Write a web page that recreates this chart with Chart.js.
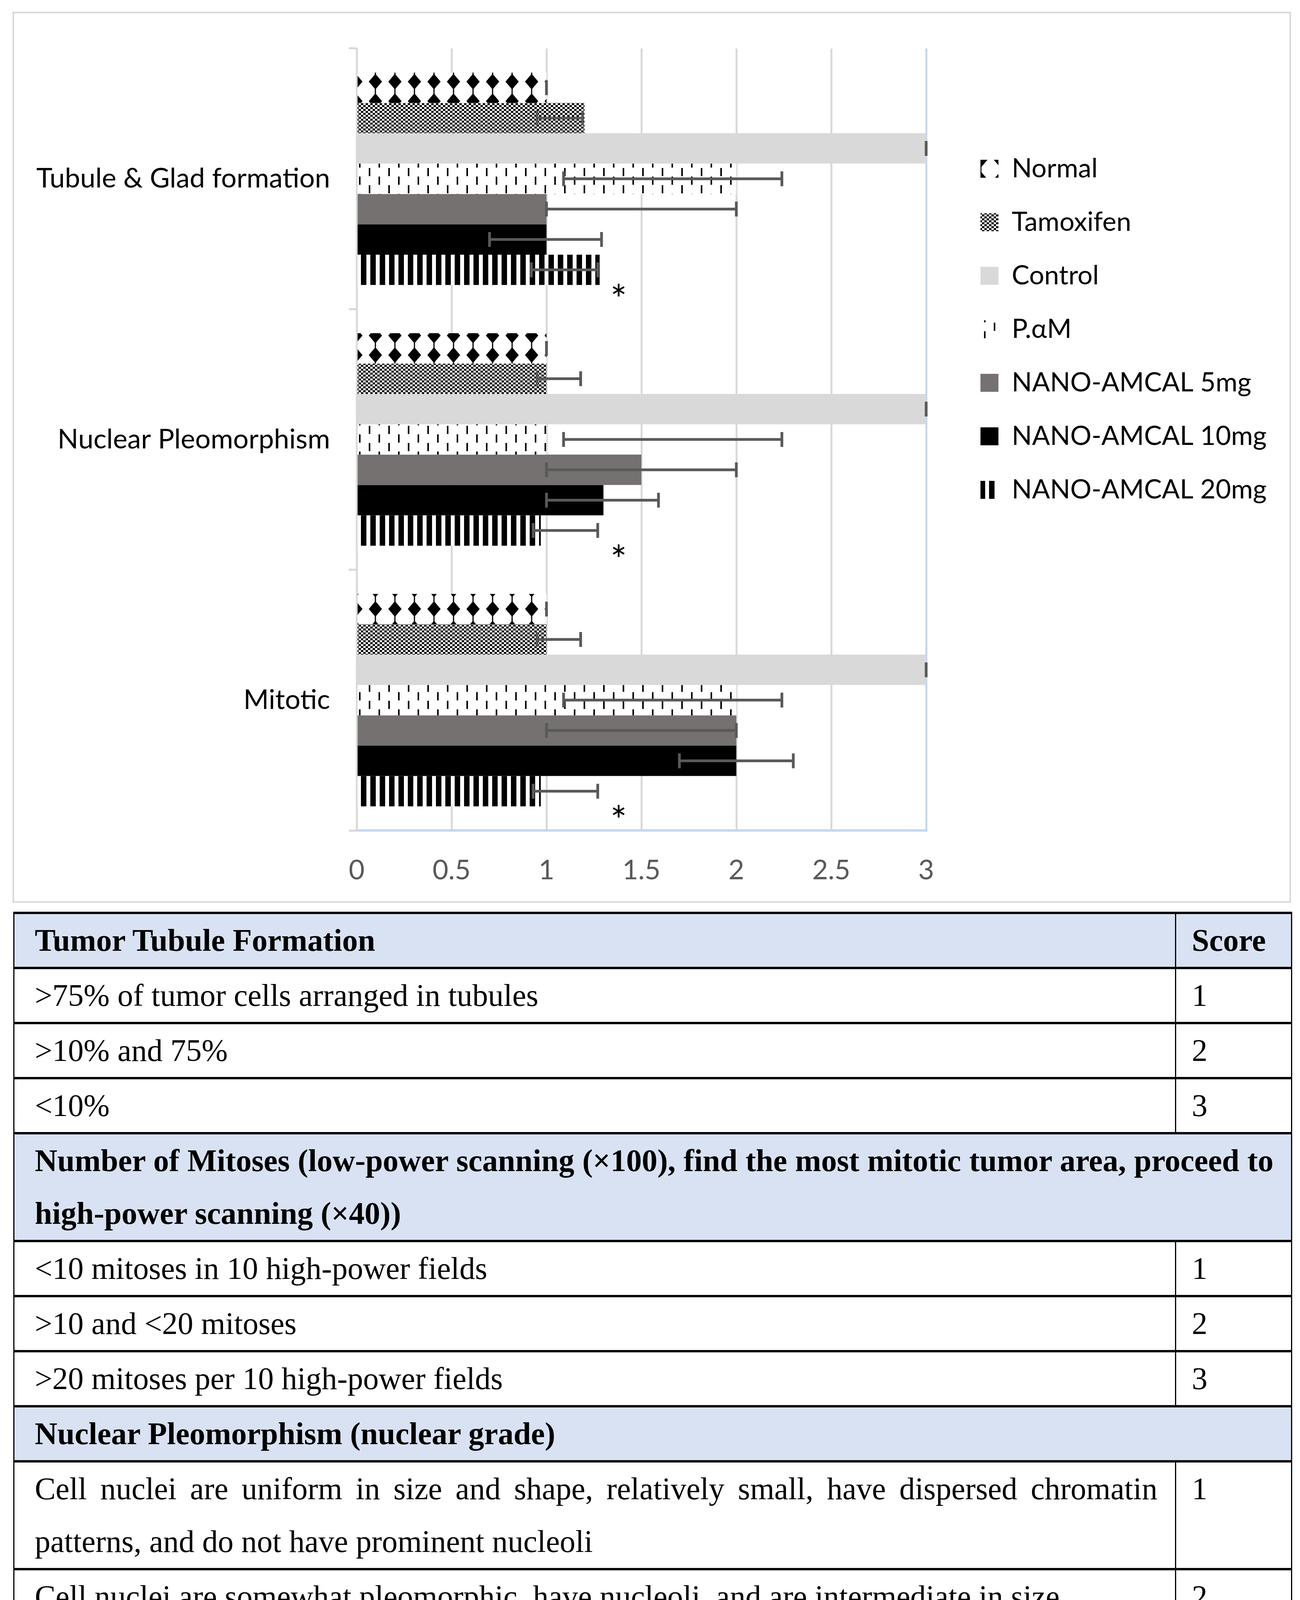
<!DOCTYPE html>
<html>
<head>
<meta charset="utf-8">
<script src="https://cdn.jsdelivr.net/npm/chart.js@4.4.1/dist/chart.umd.min.js"></script>
<style>
  html, body { margin: 0; padding: 0; background: #fff; }
  body { width: 3328px; height: 4453px; position: relative; }
  #chartBox { position: absolute; left: 32px; top: 30px; width: 3265px; height: 2273px; border: 4px solid #d9d9d9; }
  #chartBox canvas { display: block; }
  table { position: absolute; left: 34px; top: 2334px; width: 3271px; table-layout: fixed; border-collapse: collapse;
          font-family: "Liberation Serif", "DejaVu Serif", serif; font-size: 80px; color: #000; }
  td { border-left: 3px solid #000; border-right: 3px solid #000; border-top: 6px solid #000; border-bottom: 6px solid #000;
       padding: 0 45px 0 52px; line-height: 135px; vertical-align: top; }
  td.score { padding-left: 40px; }
  tr.head td { background: #d9e2f3; font-weight: bold; }
  .jl { display: block; text-align: justify; text-align-last: justify; }
</style>
</head>
<body>
<div id="chartBox"><canvas id="chart" width="3265" height="2273"></canvas></div>

<table>
  <colgroup><col style="width:2974px"><col style="width:297px"></colgroup>
  <tr class="head"><td>Tumor Tubule Formation</td><td class="score">Score</td></tr>
  <tr><td>&gt;75% of tumor cells arranged in tubules</td><td class="score">1</td></tr>
  <tr><td>&gt;10% and 75%</td><td class="score">2</td></tr>
  <tr><td>&lt;10%</td><td class="score">3</td></tr>
  <tr class="head"><td colspan="2"><span class="jl">Number of Mitoses (low-power scanning (×100), find the most mitotic tumor area, proceed to</span>high-power scanning (×40))</td></tr>
  <tr><td>&lt;10 mitoses in 10 high-power fields</td><td class="score">1</td></tr>
  <tr><td>&gt;10 and &lt;20 mitoses</td><td class="score">2</td></tr>
  <tr><td>&gt;20 mitoses per 10 high-power fields</td><td class="score">3</td></tr>
  <tr class="head"><td colspan="2">Nuclear Pleomorphism (nuclear grade)</td></tr>
  <tr><td><span class="jl">Cell nuclei are uniform in size and shape, relatively small, have dispersed chromatin</span>patterns, and do not have prominent nucleoli</td><td class="score">1</td></tr>
  <tr><td>Cell nuclei are somewhat pleomorphic, have nucleoli, and are intermediate in size</td><td class="score">2</td></tr>
  <tr><td><span class="jl">Cell nuclei are relatively large, have prominent nucleoli or multiple nucleoli, coarse</span>chromatin patterns, and vary in size and shape</td><td class="score">3</td></tr>
</table>

<script>
// data
const categories = ['Tubule & Glad formation', 'Nuclear Pleomorphism', 'Mitotic'];
const seriesNames = ['Normal', 'Tamoxifen', 'Control', 'P.\u03b1M', 'NANO-AMCAL 5mg', 'NANO-AMCAL 10mg', 'NANO-AMCAL 20mg'];

const normal    = [1, 1, 1];
const tamoxifen = [1.2, 1, 1];
const control   = [3, 3, 3];
const pam       = [2, 1, 2];
const nano5     = [1, 1.5, 2];
const nano10    = [1, 1.3, 2];
const nano20    = [1.28, 0.97, 0.97];

// error bar ends [low, high]
const normalErr    = [[1, 1], [1, 1], [1, 1]];
const tamoxifenErr = [[0.95, 1.19], [0.95, 1.18], [0.95, 1.18]];
const controlErr   = [[3, 3], [3, 3], [3, 3]];
const pamErr       = [[1.09, 2.24], [1.09, 2.24], [1.09, 2.24]];
const nano5Err     = [[1, 2], [1, 2], [1, 2]];
const nano10Err    = [[0.7, 1.29], [1, 1.59], [1.7, 2.3]];
const nano20Err    = [[0.92, 1.27], [0.93, 1.27], [0.93, 1.27]];

const xTicks = [0, 0.5, 1, 1.5, 2, 2.5, 3];
const starValue = 1.38;   // where the "*" sits
const starSeries = 6;

const canvas = document.getElementById('chart');
const ctx = canvas.getContext('2d');

function makePattern(w, h, draw) {
  const c = document.createElement('canvas');
  c.width = w; c.height = h;
  const g = c.getContext('2d');
  g.fillStyle = '#fff';
  g.fillRect(0, 0, w, h);
  g.fillStyle = '#000';
  draw(g);
  return ctx.createPattern(c, 'repeat');
}

const diamondFill = makePattern(50, 50, g => {
  g.beginPath();
  g.moveTo(25, 5); g.lineTo(42, 25); g.lineTo(25, 45); g.lineTo(8, 25);
  g.closePath();
  g.fill();
  g.fillRect(23.5, 0, 3, 50);
});
const checkFill = makePattern(12, 10, g => {
  g.fillRect(0, 0, 6, 5);
  g.fillRect(6, 5, 6, 5);
});
const dashFill = makePattern(50, 44, g => {
  g.fillRect(8, 0, 4, 21);
  g.fillRect(33, 22, 4, 21);
});
const stripeFill = makePattern(24, 10, g => {
  g.fillRect(0, 0, 14, 10);
});

function series(i, data, err, fill) {
  return {
    label: seriesNames[i],
    data: data,
    err: err,
    backgroundColor: fill,
    borderWidth: 0,
    barPercentage: 1,
    categoryPercentage: 0.815
  };
}

const errorBars = {
  id: 'errorBars',
  afterDatasetsDraw(chart) {
    const c = chart.ctx;
    const x = chart.scales.x;
    c.save();
    c.strokeStyle = '#595959';
    c.lineWidth = 7;
    chart.data.datasets.forEach((ds, i) => {
      chart.getDatasetMeta(i).data.forEach((bar, j) => {
        const [lo, hi] = ds.err[j];
        const x1 = x.getPixelForValue(lo);
        const x2 = x.getPixelForValue(hi);
        const y = bar.y;
        const h = 19;
        c.beginPath();
        c.moveTo(x1, y); c.lineTo(x2, y);
        c.moveTo(x1, y - h); c.lineTo(x1, y + h);
        c.moveTo(x2, y - h); c.lineTo(x2, y + h);
        c.stroke();
      });
    });
    c.fillStyle = '#000';
    c.font = '100px Lato';
    c.textAlign = 'center';
    c.textBaseline = 'alphabetic';
    chart.getDatasetMeta(starSeries).data.forEach(bar => {
      c.fillText('*', x.getPixelForValue(starValue), bar.y + 112);
    });
    c.restore();
  }
};

// push the legend block to where it sits in the figure
const legendSpot = {
  id: 'legendSpot',
  beforeLayout(chart) {
    const lg = chart.legend;
    if (lg && !lg._wide) {
      const fit = lg.fit;
      lg.fit = function () { fit.call(this); this.width = 840; };
      lg._wide = true;
    }
  },
  afterLayout(chart) {
    chart.legend.left += 70;
    chart.legend.right += 70;
  }
};

Chart.defaults.font.family = 'Lato';

new Chart(ctx, {
  type: 'bar',
  data: {
    labels: categories,
    datasets: [
      series(0, normal, normalErr, diamondFill),
      series(1, tamoxifen, tamoxifenErr, checkFill),
      series(2, control, controlErr, '#d9d9d9'),
      series(3, pam, pamErr, dashFill),
      series(4, nano5, nano5Err, '#767171'),
      series(5, nano10, nano10Err, '#000000'),
      series(6, nano20, nano20Err, stripeFill)
    ]
  },
  options: {
    indexAxis: 'y',
    responsive: false,
    animation: false,
    devicePixelRatio: 1,
    layout: { padding: { left: 50, top: 89, right: 90, bottom: 0 } },
    scales: {
      x: {
        min: 0,
        max: 3,
        afterBuildTicks: scale => { scale.ticks = xTicks.map(v => ({ value: v })); },
        afterFit: scale => { scale.height = 181; },
        grid: {
          color: c => (c.tick && c.tick.value === 3 ? '#c5d6ee' : '#d9d9d9'),
          lineWidth: 5,
          drawTicks: false
        },
        border: { color: '#c5d6ee', width: 6 },
        ticks: { color: '#595959', font: { size: 70 }, padding: 60, callback: v => String(v) }
      },
      y: {
        afterFit: scale => { scale.width = 827; },
        grid: { drawOnChartArea: false, color: '#d9d9d9', lineWidth: 5, tickLength: 20 },
        border: { color: '#d9d9d9', width: 5 },
        ticks: { color: '#000', font: { size: 70 }, padding: 48 }
      }
    },
    plugins: {
      tooltip: { enabled: false },
      legend: {
        position: 'right',
        align: 'start',
        title: { display: true, text: ' ', font: { size: 10 }, padding: { top: 194, bottom: 0 } },
        labels: { color: '#000', font: { size: 68 }, boxWidth: 46, boxHeight: 46, padding: 69 }
      }
    }
  },
  plugins: [errorBars, legendSpot]
});
</script>
</body>
</html>
